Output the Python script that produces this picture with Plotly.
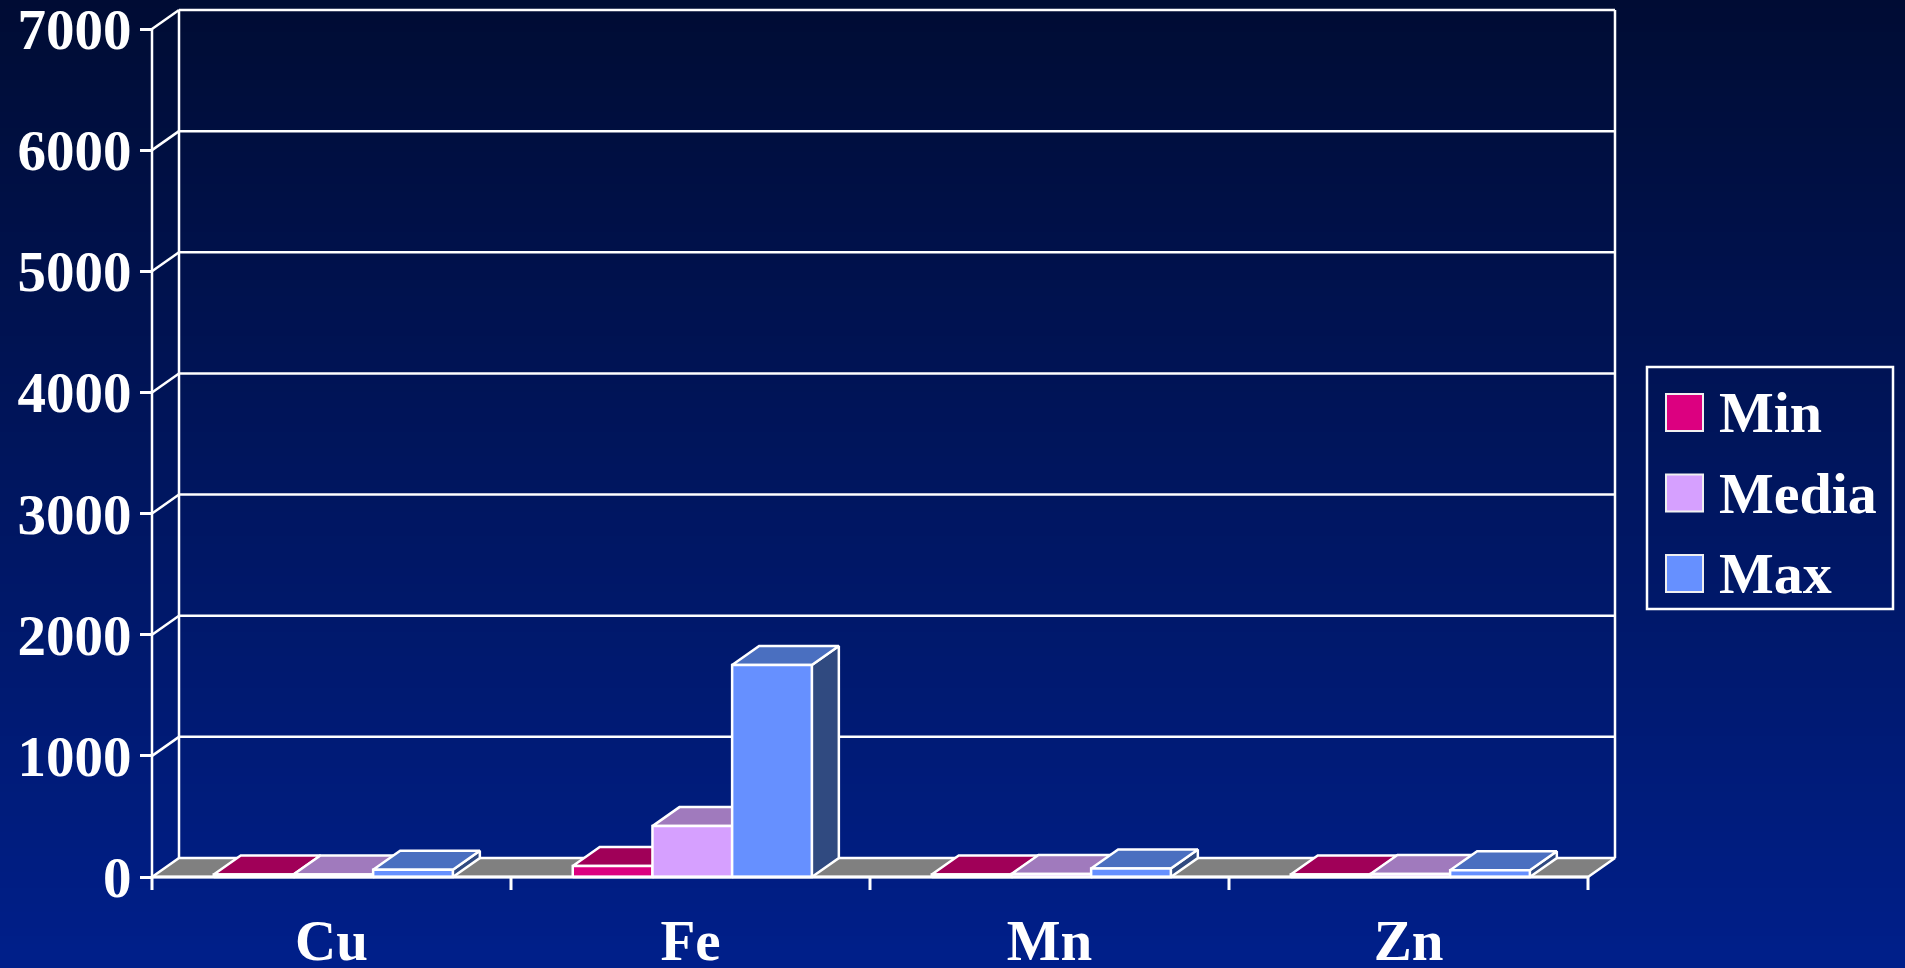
import plotly.graph_objects as go

# ---------------- data ----------------
categories = ["Cu", "Fe", "Mn", "Zn"]
series_names = ["Min", "Media", "Max"]
min_vals = [20, 90, 20, 20]
media_vals = [20, 420, 25, 25]
max_vals = [60, 1750, 70, 55]
y_ticks = [0, 1000, 2000, 3000, 4000, 5000, 6000, 7000]
y_max = 7000

series_values = [min_vals, media_vals, max_vals]

# ---------------- style ----------------
FONT = "Liberation Serif, Times New Roman, serif"
LINE = "white"
LW = 2.5
front_colors = ["#dc0080", "#d6a0ff", "#6690ff"]
top_colors = ["#a00058", "#a07abd", "#4a6fc0"]
side_colors = ["#6a0040", "#735a90", "#304a80"]
floor_color = "#808080"
bg_top = (0, 12, 52)
bg_bot = (0, 31, 138)

W, H = 1905, 968
# pixel geometry
PX0 = 152          # px of category 0 (front axis)
UNIT_PX = 359      # px per category
Y0PX = 877         # px of value 0 (front)
YPX_PER = (877 - 29) / y_max   # px per value unit
DEPTH_X_PX, DEPTH_Y_PX = 27, 19
L, R, T, B = 110, 1640, 0, 896

xr = [(L - PX0) / UNIT_PX, (R - PX0) / UNIT_PX]
yr = [-(B - Y0PX) / YPX_PER, (Y0PX - T) / YPX_PER]
DX = DEPTH_X_PX / UNIT_PX
DY = DEPTH_Y_PX / YPX_PER
GAP_L = 0.172
BW = 0.222
TICK_DOWN = 13 / YPX_PER
ncat = len(categories)

fig = go.Figure()


def poly(xs, ys, fill, lw=LW):
    fig.add_trace(go.Scatter(
        x=list(xs) + [xs[0]], y=list(ys) + [ys[0]], mode="lines",
        fill="toself", fillcolor=fill, line=dict(color=LINE, width=lw),
        hoverinfo="skip", showlegend=False))


def lines(segs, lw=LW):
    xs, ys = [], []
    for (xa, ya), (xb, yb) in segs:
        xs += [xa, xb, None]
        ys += [ya, yb, None]
    fig.add_trace(go.Scatter(x=xs, y=ys, mode="lines",
                             line=dict(color=LINE, width=lw),
                             hoverinfo="skip", showlegend=False))


# back wall gridlines and edges
segs = []
for v in y_ticks[1:]:
    segs.append(((DX, v + DY), (ncat + DX, v + DY)))
for v in y_ticks[1:]:
    segs.append(((0, v), (DX, v + DY)))
segs.append(((DX, DY), (DX, y_max + DY)))
segs.append(((ncat + DX, DY), (ncat + DX, y_max + DY)))
segs.append(((0, 0), (0, y_max)))
lines(segs)

# floor
poly([0, ncat, ncat + DX, DX], [0, 0, DY, DY], floor_color)

# bars
for gi in range(ncat):
    for si, vals in enumerate(series_values):
        v = vals[gi]
        x0 = gi + GAP_L + si * BW
        x1 = x0 + BW
        poly([x1, x1 + DX, x1 + DX, x1], [0, DY, v + DY, v], side_colors[si])
        poly([x0, x1, x1 + DX, x0 + DX], [v, v, v + DY, v + DY], top_colors[si])
        poly([x0, x1, x1, x0], [0, 0, v, v], front_colors[si])

# front floor edge and category ticks
segs = [((0, 0), (ncat, 0))]
for i in range(ncat + 1):
    segs.append(((i, 0), (i, -TICK_DOWN)))
lines(segs, lw=3)

# ---------------- background gradient ----------------
shapes = []
PW, PH = R - L, B - T


def pxx(p):
    return (p - L) / PW


def pxy(p):
    return (B - p) / PH


nb = 121
for k in range(nb):
    t = k / (nb - 1)
    c = tuple(round(bg_top[j] + (bg_bot[j] - bg_top[j]) * t) for j in range(3))
    y0p = k * H / nb
    y1p = (k + 1) * H / nb + 1
    shapes.append(dict(type="rect", xref="paper", yref="paper", layer="below",
                       x0=pxx(-5), x1=pxx(W + 5), y0=pxy(y1p), y1=pxy(y0p),
                       fillcolor="rgb(%d,%d,%d)" % c, line=dict(width=0)))

# ---------------- legend (manual) ----------------
LEG = dict(x0=1647, y0=367, x1=1893, y1=609)
shapes.append(dict(type="rect", xref="paper", yref="paper",
                   x0=pxx(LEG["x0"]), x1=pxx(LEG["x1"]),
                   y0=pxy(LEG["y1"]), y1=pxy(LEG["y0"]),
                   line=dict(color=LINE, width=2.5), fillcolor="rgba(0,0,0,0)"))
annotations = []
for i, name in enumerate(series_names):
    cy = 412.5 + i * 80.5
    shapes.append(dict(type="rect", xref="paper", yref="paper",
                       x0=pxx(1666), x1=pxx(1703), y0=pxy(cy + 18.5), y1=pxy(cy - 18.5),
                       line=dict(color="#f0f0f0", width=2), fillcolor=front_colors[i]))
    annotations.append(dict(xref="paper", yref="paper", x=pxx(1717), y=pxy(cy),
                            text=name, showarrow=False, xanchor="left", yanchor="middle",
                            font=dict(family=FONT, size=58, color="white", weight="bold")))

fig.update_layout(
    width=W, height=H,
    margin=dict(l=L, r=W - R, t=T, b=H - B, pad=0, autoexpand=False),
    paper_bgcolor="rgb(0,20,90)", plot_bgcolor="rgba(0,0,0,0)",
    showlegend=False, shapes=shapes, annotations=annotations,
    xaxis=dict(range=xr, showgrid=False, zeroline=False, showline=False,
               automargin=False,
               tickvals=[i + 0.5 for i in range(ncat)], ticktext=categories,
               ticks="", ticklabelstandoff=6,
               tickfont=dict(family=FONT, size=57, color="white", weight="bold"),
               fixedrange=True),
    yaxis=dict(range=yr, showgrid=False, zeroline=False, showline=False,
               automargin=False,
               anchor="free", position=(PX0 - L) / PW,
               tickvals=y_ticks, ticktext=[str(v) for v in y_ticks],
               ticks="outside", ticklen=12, tickwidth=2.5, tickcolor="white",
               ticklabelstandoff=-3, ticklabeloverflow="allow",
               tickfont=dict(family=FONT, size=57, color="white", weight="bold"),
               fixedrange=True),
)

fig.write_html(
    "out.html",
    config={"displayModeBar": False},
    post_script="document.body.style.margin='0';document.body.style.overflow='hidden';",
)
